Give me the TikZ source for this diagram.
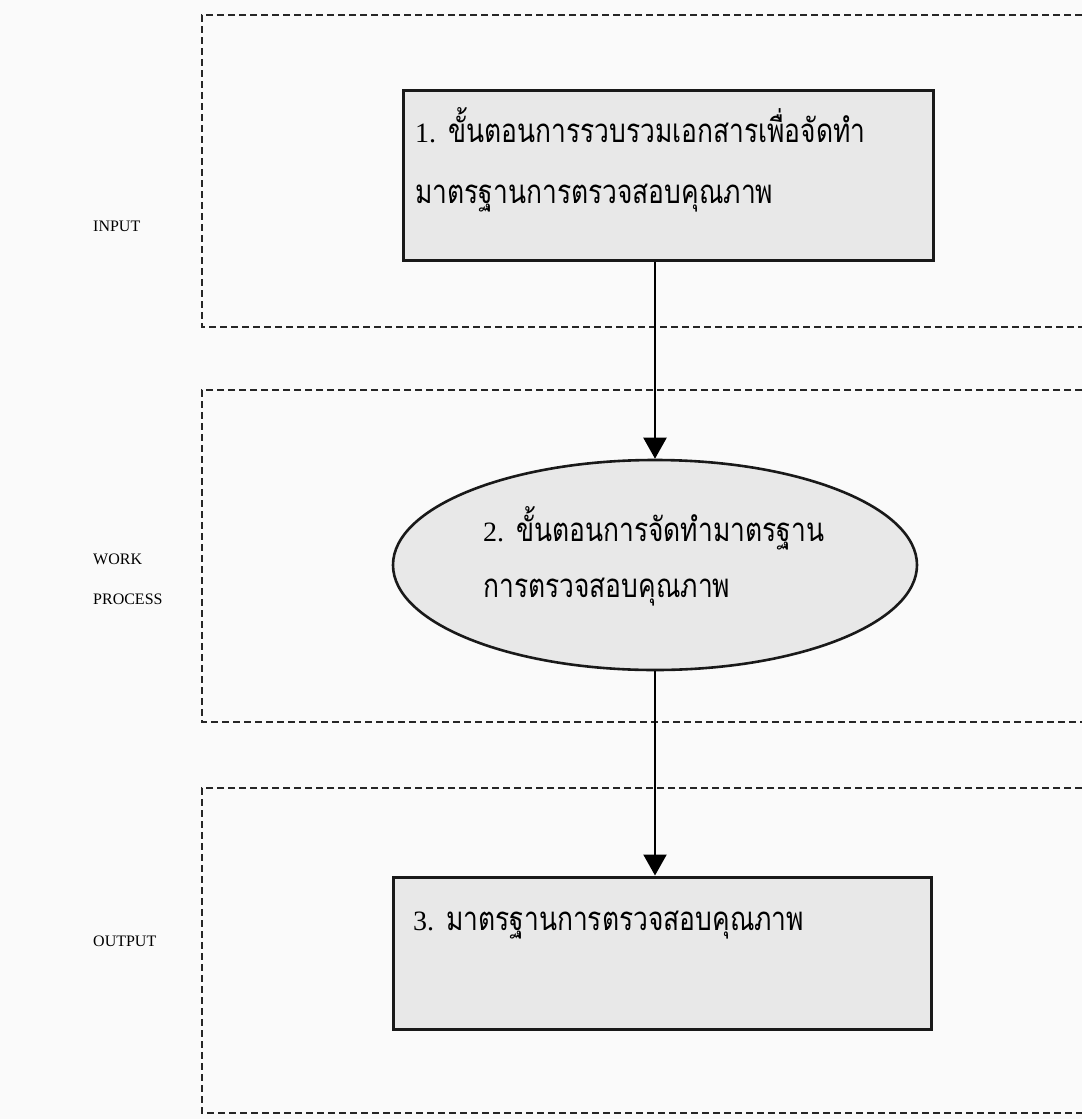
\documentclass[tikz,border=0pt]{standalone}
\usepackage{fontspec}
\setmainfont{Liberation Serif}
\newfontfamily\thaifont[Script=Thai,FakeStretch=0.8]{Loma}
\usetikzlibrary{arrows.meta,shapes.geometric}

% step numbers are set in a serif face
\newcommand{\stepnum}[1]{{\rmfamily\fontsize{28}{34}\selectfont #1}}

\begin{document}
\begin{tikzpicture}[x=1pt,y=-1pt,
  zone/.style={draw=black!85, line width=2.2pt, dash pattern=on 7pt off 4pt},
  stepbox/.style={draw=black!90, line width=3pt, fill=black!9, inner sep=0pt},
  stepoval/.style={ellipse, draw=black!90, line width=2.6pt, fill=black!9, inner sep=0pt},
  thaitext/.style={anchor=base west, font=\thaifont\fontsize{33}{40}\selectfont, inner sep=0pt},
  zonelabel/.style={anchor=base west, font=\fontsize{16}{19}\selectfont, inner sep=0pt},
  flow/.style={line width=2.2pt, -{Triangle[width=23pt,length=21pt]}}]

% page
\fill[black!2] (0,0) rectangle (1082,1119);
\useasboundingbox (0,0) rectangle (1082,1119);

% dashed zones, open to the right
\draw[zone] (1082,15) -- (202,15) -- (202,327) -- (1082,327);
\draw[zone] (1082,390) -- (202,390) -- (202,722) -- (1082,722);
\draw[zone] (1082,788) -- (202,788) -- (202,1113) -- (1082,1113);

% zone labels
\node[zonelabel] (lin) at (93,231) {INPUT};
\node[zonelabel] (lwork) at (93,564) {WORK};
\node[zonelabel] (lproc) at (93,604) {PROCESS};
\node[zonelabel] (lout) at (93,946) {OUTPUT};

% steps
\node[stepbox, minimum width=530pt, minimum height=170pt] (b1) at (668,175) {};
\node[stepoval, minimum width=524pt, minimum height=210pt] (e) at (655,565) {};
\node[stepbox, minimum width=538pt, minimum height=152pt] (b3) at (662,953) {};

\node[thaitext] (t1a) at (415,142) {\stepnum{1.} ขั้นตอนการรวบรวมเอกสารเพื่อจัดทำ};
\node[thaitext] (t1b) at (415,203) {มาตรฐานการตรวจสอบคุณภาพ};
\node[thaitext] (t2a) at (483,541) {\stepnum{2.} ขั้นตอนการจัดทำมาตรฐาน};
\node[thaitext] (t2b) at (483,597) {การตรวจสอบคุณภาพ};
\node[thaitext] (t3) at (413,930) {\stepnum{3.} มาตรฐานการตรวจสอบคุณภาพ};

% flow
\draw[flow] (b1.south -| e.north) -- (e.north);
\draw[flow] (e.south) -- (e.south |- b3.north);
\end{tikzpicture}
\end{document}
